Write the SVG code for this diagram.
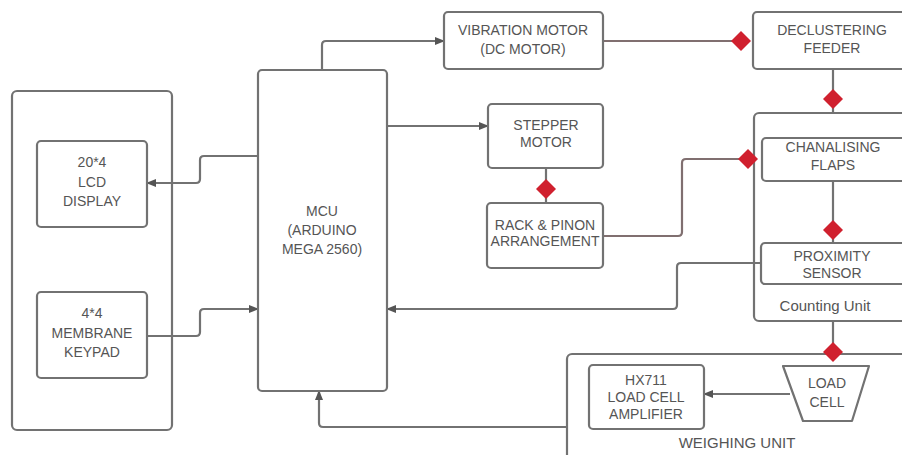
<svg xmlns="http://www.w3.org/2000/svg" xmlns:xlink="http://www.w3.org/1999/xlink" width="902" height="455" viewBox="0 0 902 455">
<style>
.box{fill:#fff;stroke:#727272;stroke-width:2.2}
.t{font-family:"Liberation Sans",Arial,sans-serif;font-size:14px;fill:#555;text-anchor:middle}
.lbl{font-family:"Liberation Sans",Arial,sans-serif;font-size:15px;fill:#555;text-anchor:middle}
.c{fill:none;stroke:#727272;stroke-width:2.2;stroke-linejoin:round}
.r{fill:none;stroke:#806f70;stroke-width:2.2}
.dia{fill:#d0202e}
</style>
<defs>
<marker id="ah" viewBox="0 0 10 10" refX="9" refY="5" markerWidth="10" markerHeight="10" markerUnits="userSpaceOnUse" orient="auto">
<path d="M0,1 L10,5 L0,9 Z" fill="#555"/>
</marker>
<path id="d" d="M0,-10 L10,0 L0,10 L-10,0 Z" class="dia"/>
</defs>

<g id="containers">
<g id="user-panel"><rect class="box" x="12" y="91" width="160" height="339" rx="5"/></g>
<g id="counting-unit"><rect class="box" x="754" y="113" width="170" height="208" rx="5"/>
<text class="lbl" x="825" y="311">Counting Unit</text></g>
<g id="weighing-unit"><rect class="box" x="567" y="354" width="360" height="130" rx="5"/>
<text class="lbl" x="737" y="448">WEIGHING UNIT</text></g>
</g>

<g id="connectors">
<path class="c" d="M322,70 V45 Q322,41 326,41 H444" marker-end="url(#ah)"/>
<path class="c" d="M387,126 H488" marker-end="url(#ah)"/>
<path class="c" d="M258,156 H204 Q200,156 200,160 V179 Q200,183 196,183 H147" marker-end="url(#ah)"/>
<path class="c" d="M147,336 H196 Q200,336 200,332 V313 Q200,309 204,309 H258" marker-end="url(#ah)"/>
<path class="c" d="M761,263 H681 Q677,263 677,267 V305 Q677,309 673,309 H387" marker-end="url(#ah)"/>
<path class="c" d="M567,427 H323 Q319,427 319,423 V391" marker-end="url(#ah)"/>
<path class="c" d="M790,394 H704" marker-end="url(#ah)"/>
<path class="r" d="M603,41 H741"/>
<path class="c" d="M833,69 V113"/>
<path class="c" d="M546,168 V203"/>
<path class="r" d="M603,236 H678 Q682,236 682,232 V163 Q682,159 686,159 H748"/>
<path class="c" d="M833,181 V243"/>
<path class="c" d="M833,321 V352"/>
<use xlink:href="#d" x="741" y="41"/>
<use xlink:href="#d" x="833" y="99"/>
<use xlink:href="#d" x="546" y="189"/>
<use xlink:href="#d" x="748" y="159"/>
<use xlink:href="#d" x="833" y="230"/>
<use xlink:href="#d" x="833" y="352"/>
</g>

<g id="lcd"><rect class="box" x="37" y="141" width="110" height="86" rx="4"/>
<text class="t" x="92" y="167">20*4</text><text class="t" x="92" y="187">LCD</text><text class="t" x="92" y="206">DISPLAY</text></g>
<g id="keypad"><rect class="box" x="37" y="292" width="110" height="86" rx="4"/>
<text class="t" x="92" y="318">4*4</text><text class="t" x="92" y="338">MEMBRANE</text><text class="t" x="92" y="357">KEYPAD</text></g>
<g id="mcu"><rect class="box" x="258" y="70" width="129" height="321" rx="4"/>
<text class="t" x="322" y="216">MCU</text><text class="t" x="322" y="235">(ARDUINO</text><text class="t" x="322" y="254">MEGA 2560)</text></g>
<g id="vibration-motor"><rect class="box" x="444" y="12" width="159" height="57" rx="4"/>
<text class="t" x="523" y="35">VIBRATION MOTOR</text><text class="t" x="523" y="54">(DC MOTOR)</text></g>
<g id="stepper-motor"><rect class="box" x="488" y="104" width="115" height="64" rx="4"/>
<text class="t" x="546" y="130">STEPPER</text><text class="t" x="546" y="147">MOTOR</text></g>
<g id="rack-pinion"><rect class="box" x="487" y="203" width="116" height="65" rx="4"/>
<text class="t" x="545" y="230">RACK &amp; PINON</text><text class="t" x="545" y="246">ARRANGEMENT</text></g>
<g id="feeder"><rect class="box" x="753" y="12" width="170" height="57" rx="4"/>
<text class="t" x="832" y="35">DECLUSTERING</text><text class="t" x="832" y="53">FEEDER</text></g>
<g id="flaps"><rect class="box" x="762" y="138" width="160" height="43" rx="4"/>
<text class="t" x="833" y="152">CHANALISING</text><text class="t" x="833" y="170">FLAPS</text></g>
<g id="proximity"><rect class="box" x="761" y="243" width="160" height="41" rx="4"/>
<text class="t" x="832" y="261">PROXIMITY</text><text class="t" x="832" y="278">SENSOR</text></g>
<g id="hx711"><rect class="box" x="589" y="365" width="115" height="64" rx="4"/>
<text class="t" x="646" y="385">HX711</text><text class="t" x="646" y="402">LOAD CELL</text><text class="t" x="646" y="419">AMPLIFIER</text></g>
<g id="load-cell"><path class="box" d="M783,366 H869 L852,421 H803 Z" stroke-linejoin="round"/>
<text class="t" x="827" y="388">LOAD</text><text class="t" x="827" y="407">CELL</text></g>
</svg>
